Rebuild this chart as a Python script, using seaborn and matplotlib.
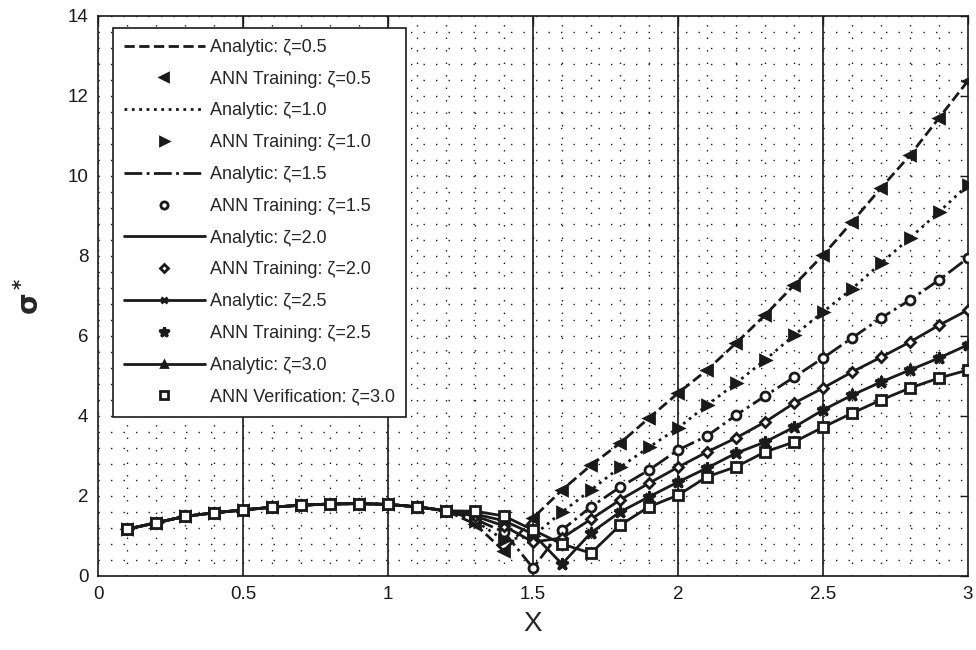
import matplotlib
matplotlib.use("Agg")
import matplotlib.pyplot as plt
import seaborn as sns
import numpy as np
import pandas as pd

# Sample positions along the specimen
x = [0.1, 0.2, 0.3, 0.4, 0.5, 0.6, 0.7, 0.8, 0.9, 1.0,
     1.1, 1.2, 1.3, 1.4, 1.5, 1.6, 1.7, 1.8, 1.9, 2.0,
     2.1, 2.2, 2.3, 2.4, 2.5, 2.6, 2.7, 2.8, 2.9, 3.0]

# Normalised stress sigma* for each zeta
sigma_z05 = [1.17, 1.33, 1.49, 1.58, 1.65, 1.72, 1.77, 1.80, 1.81, 1.79,
             1.73, 1.63, 1.30, 0.62, 1.45, 2.15, 2.77, 3.32, 3.95, 4.57,
             5.15, 5.82, 6.52, 7.27, 8.02, 8.85, 9.70, 10.52, 11.45, 12.38]
sigma_z10 = [1.17, 1.33, 1.49, 1.58, 1.65, 1.72, 1.77, 1.80, 1.81, 1.79,
             1.73, 1.63, 1.38, 0.90, 1.00, 1.60, 2.15, 2.72, 3.22, 3.70,
             4.27, 4.82, 5.40, 6.02, 6.60, 7.18, 7.82, 8.45, 9.10, 9.78]
sigma_z15 = [1.17, 1.33, 1.49, 1.58, 1.65, 1.72, 1.77, 1.80, 1.81, 1.79,
             1.73, 1.63, 1.42, 1.10, 0.20, 1.15, 1.73, 2.22, 2.65, 3.15,
             3.50, 4.02, 4.50, 4.97, 5.45, 5.95, 6.45, 6.90, 7.40, 7.95]
sigma_z20 = [1.17, 1.33, 1.49, 1.58, 1.65, 1.72, 1.77, 1.80, 1.81, 1.79,
             1.73, 1.63, 1.50, 1.25, 0.85, 0.95, 1.42, 1.90, 2.32, 2.72,
             3.10, 3.45, 3.85, 4.32, 4.70, 5.10, 5.47, 5.85, 6.27, 6.65]
sigma_z25 = [1.17, 1.33, 1.49, 1.58, 1.65, 1.72, 1.77, 1.80, 1.81, 1.79,
             1.73, 1.63, 1.55, 1.38, 1.05, 0.30, 1.08, 1.60, 1.98, 2.35,
             2.70, 3.07, 3.35, 3.72, 4.15, 4.52, 4.85, 5.15, 5.45, 5.78]
sigma_z30 = [1.17, 1.33, 1.49, 1.58, 1.65, 1.72, 1.77, 1.80, 1.81, 1.79,
             1.73, 1.63, 1.62, 1.50, 1.15, 0.80, 0.57, 1.27, 1.73, 2.02,
             2.48, 2.73, 3.10, 3.35, 3.72, 4.07, 4.40, 4.70, 4.95, 5.15]

zeta_labels = ["0.5", "1.0", "1.5", "2.0", "2.5", "3.0"]
series = [sigma_z05, sigma_z10, sigma_z15, sigma_z20, sigma_z25, sigma_z30]

# Line style / marker for the analytic curve, marker for the network points
analytic_styles = [("--", None), (":", None), ("-.", None),
                   ("-", None), ("-", "x"), ("-", "^")]
ann_styles = [("<", "k"), (">", "k"), ("o", "white"),
              ("D", "white"), ("*", "k"), ("s", "white")]

sns.set_theme(style="white")
plt.rcParams["font.family"] = ["Liberation Sans", "DejaVu Sans"]

fig = plt.figure(figsize=(9.76, 6.5), dpi=100)
ax = fig.add_axes([98 / 976, 1 - 576 / 650, 870 / 976, 560 / 650])

for i, (lab, vals) in enumerate(zip(zeta_labels, series)):
    df = pd.DataFrame({"x": x, "sigma": vals})
    ls, mk = analytic_styles[i]
    sns.lineplot(data=df, x="x", y="sigma", ax=ax, color="k",
                 linestyle=ls, linewidth=2.0,
                 marker=mk if mk else "", markersize=6, markeredgewidth=2,
                 markerfacecolor="k", markeredgecolor="k",
                 label=f"Analytic: \u03b6={lab}", zorder=3)
    amk, afc = ann_styles[i]
    ann_name = "ANN Verification" if lab == "3.0" else "ANN Training"
    size = {"*": 9, "D": 5, "s": 7}.get(amk, 6.5)
    sns.lineplot(data=df, x="x", y="sigma", ax=ax, color="k",
                 linestyle="none", marker=amk,
                 markersize=size, markeredgewidth=2,
                 markerfacecolor=afc, markeredgecolor="k",
                 label=f"{ann_name}: \u03b6={lab}", zorder=4)

ax.set_xlim(0, 3)
ax.set_ylim(0, 14)
ax.set_xticks([0, 0.5, 1, 1.5, 2, 2.5, 3])
ax.set_xticklabels(["0", "0.5", "1", "1.5", "2", "2.5", "3"])
ax.set_yticks(np.arange(0, 15, 2))
ax.set_xticks(np.arange(0, 3.01, 0.1), minor=True)
ax.set_yticks(np.arange(0, 14.01, 0.4), minor=True)

# Dotted grid everywhere, solid verticals at the major x ticks
ax.grid(which="both", axis="both", color="k", linestyle=(0, (1, 8)),
        linewidth=1.0, zorder=0)
for xv in [0.5, 1.0, 1.5, 2.0, 2.5]:
    ax.axvline(xv, color="k", linewidth=1.2, zorder=1)

ax.tick_params(axis="both", which="major", direction="in", length=6,
               width=1, top=True, right=True, labelsize=13.5, colors="k",
               pad=7)
ax.tick_params(axis="both", which="minor", length=0)
for sp in ax.spines.values():
    sp.set_color("k")
    sp.set_linewidth(1.2)
    sp.set_visible(True)

ax.set_xlabel("X", fontsize=20, labelpad=6)
ax.set_ylabel(r"$\mathbf{\sigma^*}$", fontsize=20, labelpad=16)

leg = ax.legend(loc="upper left", bbox_to_anchor=(15 / 870, 548 / 560),
                fontsize=13, frameon=True, fancybox=False,
                edgecolor="k", framealpha=1, handlelength=4.5,
                handletextpad=0.3, labelspacing=0.82, borderpad=0.6,
                borderaxespad=0, markerscale=0.8)
leg.get_frame().set_linewidth(1.2)
leg.set_zorder(10)

fig.savefig("out.png", dpi=100, facecolor="white")
